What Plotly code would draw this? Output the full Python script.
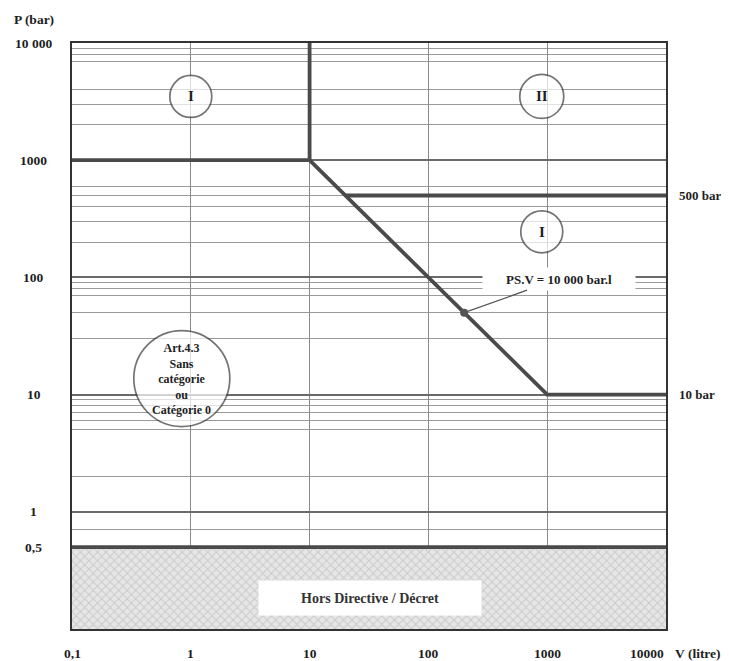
import numpy as np
import plotly.graph_objects as go

# ---- axis ticks ----
x_tick_vals = [0.1, 1, 10, 100, 1000, 10000]
x_tick_text = ["0,1", "1", "10", "100", "1000", "10000"]
y_tick_vals = [10000, 1000, 100, 10, 1, 0.5]
y_tick_text = ["10 000", "1000", "100", "10", "1", "0,5"]
# intermediate horizontal rulings of the log paper
minor_grid_P = [0.3, 0.4, 0.7,
                2, 5, 6, 7, 8, 9,
                30, 50, 70, 80, 90,
                200, 300, 400, 500, 600,
                2000, 3000, 4000, 7000, 8000, 9000]

# ---- category boundaries ----
limit_V = [0.1, 10, 1000, 10000]
limit_P = [1000, 1000, 10, 10]
vert_V = [10, 10]
vert_P = [1000, 10000]
p500_V = [20, 10000]
p500_P = [500, 500]
p05_V = [0.1, 10000]
p05_P = [0.5, 0.5]
hatch_V = [0.1, 10000, 10000, 0.1, 0.1]
hatch_P = [0.1, 0.1, 0.5, 0.5, 0.1]
point_V = [200]
point_P = [50]

# ---- zone labels ----
zones_text = ["I", "II", "I", "Art.4.3<br>Sans<br>catégorie<br>ou<br>Catégorie 0"]
zones_V = [1, 900, 900, 0.84]
zones_P = [3500, 3500, 245, 13.7]
zones_d = [42, 44, 42, 96]

FONT = "Liberation Serif"
LINE = "#4a4a4a"
TXT = "#1e1e1e"

fig = go.Figure()

# hatched "Hors Directive" area
fig.add_trace(go.Scatter(
    x=hatch_V, y=hatch_P, mode="lines", fill="toself",
    line=dict(width=0), fillcolor="#e4e4e4",
    fillpattern=dict(shape="x", fgcolor="#adadad", bgcolor="#e6e6e6", size=6, solidity=0.3),
    hoverinfo="skip", showlegend=False))

for vx, py in [(limit_V, limit_P), (vert_V, vert_P), (p500_V, p500_P), (p05_V, p05_P)]:
    fig.add_trace(go.Scatter(x=vx, y=py, mode="lines",
                             line=dict(color=LINE, width=3.8),
                             hoverinfo="skip", showlegend=False))

fig.add_trace(go.Scatter(x=point_V, y=point_P, mode="markers",
                         marker=dict(color="#555", size=8),
                         hoverinfo="skip", showlegend=False))

# zone circles
fig.add_trace(go.Scatter(x=zones_V, y=zones_P, mode="markers",
                         marker=dict(symbol="circle", size=zones_d, color="white",
                                     line=dict(color="#3a3a3a", width=1.7)),
                         hoverinfo="skip", showlegend=False))

bold = lambda s, c=TXT: dict(family=FONT, size=s, color=c, weight="bold")

annotations = []
for t, v, p in zip(zones_text, zones_V, zones_P):
    annotations.append(dict(x=np.log10(v), y=np.log10(p), xref="x", yref="y",
                            text=t, showarrow=False,
                            font=bold(12 if len(t) > 3 else 15)))

# y tick labels (centered)
for val, txt in zip(y_tick_vals, y_tick_text):
    annotations.append(dict(x=-0.064, xref="paper", y=np.log10(val), yref="y",
                            text=txt, showarrow=False, xanchor="center", yanchor="middle",
                            font=bold(13.5)))
# x tick labels
for val, txt in zip(x_tick_vals, x_tick_text):
    annotations.append(dict(x=np.log10(val), xref="x", y=-0.041, yref="paper",
                            text=txt, showarrow=False, xanchor="center", yanchor="middle",
                            xshift=-19 if val == 10000 else 0,
                            font=bold(13.5)))

annotations += [
    dict(x=1.054, xref="paper", y=-0.041, yref="paper", text="V (litre)",
         showarrow=False, xanchor="center", yanchor="middle", font=bold(13.5)),
    dict(x=-0.064, xref="paper", y=1.04, yref="paper", text="P (bar)",
         showarrow=False, xanchor="center", yanchor="middle", font=bold(13.5)),
    dict(x=1.0, xref="paper", xanchor="left", yanchor="middle", xshift=11,
         y=np.log10(500), yref="y",
         text="500 bar", showarrow=False, font=bold(13)),
    dict(x=1.0, xref="paper", xanchor="left", yanchor="middle", xshift=11,
         y=np.log10(10), yref="y",
         text="10 bar", showarrow=False, font=bold(13)),
    dict(x=np.log10(point_V[0]), y=np.log10(point_P[0]), xref="x", yref="y",
         text="PS.V = 10 000 bar.l", showarrow=True, arrowhead=0, arrowwidth=1.2,
         arrowcolor="#555", ax=95, ay=-34, bgcolor="white", width=150, height=20,
         font=bold(13)),
    dict(x=np.log10(32), y=np.log10(0.185), xref="x", yref="y",
         text="Hors Directive / Décret", showarrow=False, bgcolor="white",
         width=220, height=32, font=bold(14, "#333")),
]

fig.update_layout(
    width=721, height=653,
    margin=dict(l=64, r=63, t=35, b=32),
    paper_bgcolor="white", plot_bgcolor="white",
    annotations=annotations,
    showlegend=False,
)
fig.update_xaxes(type="log", range=[-1, 4], dtick=1, showticklabels=False,
                 showgrid=True, gridcolor="#8a8a8a", gridwidth=1.2,
                 showline=True, linecolor="#333", linewidth=2, mirror=True,
                 zeroline=False, ticks="")
fig.update_yaxes(type="log", range=[-1, 4], dtick=1, showticklabels=False,
                 showgrid=True, gridcolor="#6a6a6a", gridwidth=1.8,
                 minor=dict(tickvals=minor_grid_P, showgrid=True,
                            gridcolor="#9a9a9a", gridwidth=1.1, ticks=""),
                 showline=True, linecolor="#333", linewidth=2, mirror=True,
                 zeroline=False, ticks="")

fig.write_html("out.html")
